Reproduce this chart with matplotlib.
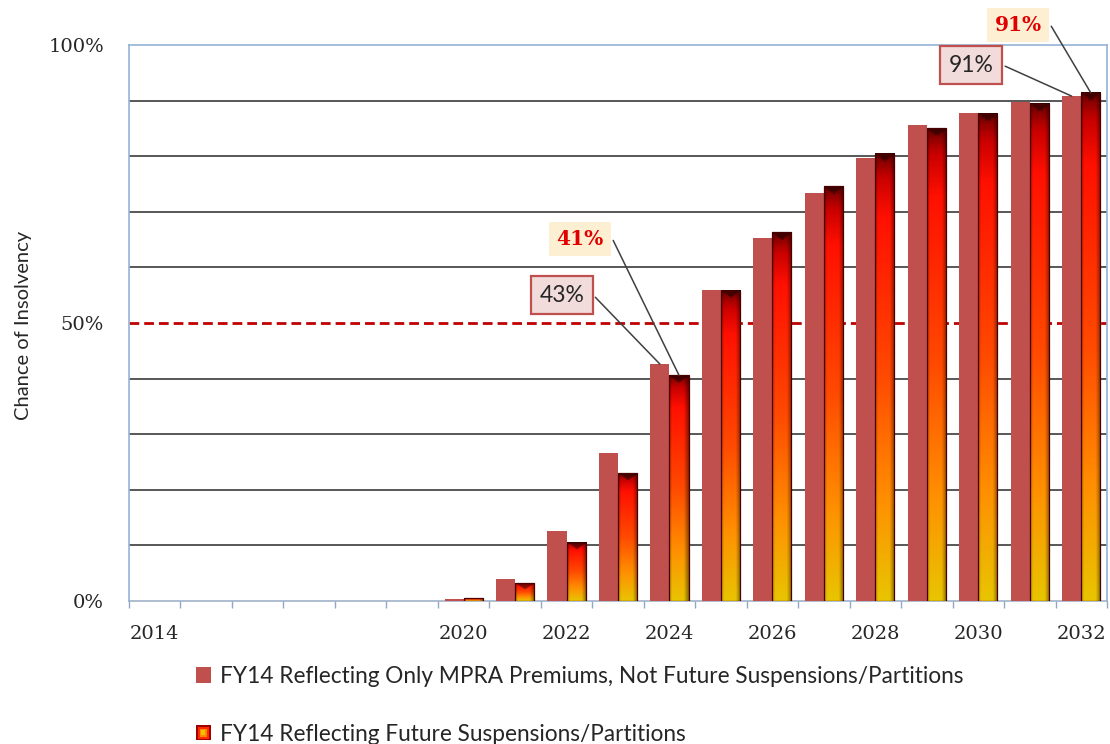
import numpy as np
import matplotlib
matplotlib.use('Agg')
import matplotlib.pyplot as plt
from matplotlib.patches import Patch, Rectangle
from matplotlib.colors import LinearSegmentedColormap
from matplotlib.legend_handler import HandlerBase

# data (percent chance of insolvency)
years = list(range(2014, 2033))
only_mpra = [0, 0, 0, 0, 0, 0, 0.4, 3.9, 12.6, 26.6, 42.6, 56.0, 65.3, 73.4, 79.6, 85.6, 87.7, 89.7, 90.8]
with_susp = [0, 0, 0, 0, 0, 0, 0.5, 3.2, 10.5, 23.0, 40.6, 55.8, 66.3, 74.6, 80.4, 85.0, 87.6, 89.4, 91.4]
labeled_years = [2014, 2020, 2022, 2024, 2026, 2028, 2030, 2032]
y_tick_vals = [0, 50, 100]
y_tick_labels = ['0%', '50%', '100%']
grid_levels = [10, 20, 30, 40, 60, 70, 80, 90]
threshold = 50
legend_labels = ['FY14 Reflecting Only MPRA Premiums, Not Future Suspensions/Partitions',
                 'FY14 Reflecting Future Suspensions/Partitions']

SERIF = 'DejaVu Serif'
SANS = 'Lato'

fig = plt.figure(figsize=(11.1, 7.44), dpi=100)
ax = fig.add_axes([129 / 1110, 1 - 601 / 744, 978 / 1110, 556 / 744])

x = np.arange(len(years))
w = 0.37

for g in grid_levels:
    ax.axhline(g, color='#4a4a4a', lw=1.3, zorder=1)
ax.axhline(threshold, color='#c00000', lw=2, ls=(0, (3.5, 1.8)), zorder=2)

bars1 = ax.bar(x - w / 2, only_mpra, w, color='#c0504d', zorder=3)
bars2 = ax.bar(x + w / 2, with_susp, w, facecolor='none', edgecolor='#4a0000',
               linewidth=0.9, zorder=5)

# gradient fill for the second series
cmap = LinearSegmentedColormap.from_list('fire', [
    (0.0, '#6e0000'), (0.05, '#c80000'), (0.14, '#ff1000'),
    (0.5, '#ff4a00'), (0.78, '#ff9000'), (1.0, '#e9c400')])
nr, nc = 200, 40
vert = np.linspace(0, 1, nr)[:, None]
horiz = np.linspace(0, 1, nc)[None, :]
shade = 1 - 0.45 * np.clip((np.abs(horiz - 0.45) - 0.3) / 0.25, 0, 1)
px_per_unit = 556 / 100
for p in bars2:
    h = p.get_height()
    if h <= 0:
        p.set_linewidth(0)
        continue
    img = cmap(np.repeat(vert, nc, axis=1))[:, :, :3].copy()
    img *= shade[:, :, None]
    # dark bevel at the top
    tri = min(0.35, 7 / (h * px_per_unit))
    for r in np.where(vert[:, 0] < tri)[0]:
        half = 0.5 * (1 - vert[r, 0] / tri)
        mask = np.abs(horiz[0] - 0.5) < half
        img[r, mask] *= 0.55
    ax.imshow(img, extent=(p.get_x(), p.get_x() + p.get_width(), 0, h),
              aspect='auto', origin='upper', zorder=4, interpolation='bilinear')

ax.set_xlim(-0.5, len(years) - 0.5)
ax.set_ylim(0, 100)

ax.set_yticks(y_tick_vals)
ax.set_yticklabels(y_tick_labels, family=SERIF, fontsize=14, color='#262626')
ax.tick_params(axis='y', length=0, pad=18)

ax.set_xticks([years.index(y) for y in labeled_years])
ax.set_xticklabels([str(y) for y in labeled_years], family=SERIF, fontsize=14, color='#262626')
ax.tick_params(axis='x', which='major', length=0, pad=17)
ax.set_xticks(np.arange(-0.5, len(years), 1), minor=True)
ax.tick_params(axis='x', which='minor', length=5, width=1, color='#8fa8c8', direction='out')

for s in ['top', 'right', 'left']:
    ax.spines[s].set_color('#95b3d7')
    ax.spines[s].set_linewidth(1.2)
ax.spines['bottom'].set_color('#9fb1c8')
ax.spines['bottom'].set_linewidth(1.2)

ax.set_ylabel('Chance of Insolvency', family=SANS, fontsize=14.5, color='#262626')
ax.yaxis.set_label_coords(-0.099, 0.496)

# callouts
i32 = years.index(2032)
i24 = years.index(2024)
gray_box = dict(boxstyle='square,pad=0.36', fc='#f2dcdb', ec='#c0504d', lw=1.6)
cream_box = dict(boxstyle='square,pad=0.36', fc='#fdf0d2', ec='none')
conn = dict(arrowstyle='-', color='#404040', lw=1.1, shrinkA=2, shrinkB=0,
            relpos=(1, 0.5), connectionstyle='arc,angleA=0,armA=9,angleB=0,armB=0,rad=0')

ax.annotate('%d%%' % round(only_mpra[i24]), xy=(i24 - w / 2, only_mpra[i24]), xytext=(7.91, 55.0),
            ha='center', va='center', family=SANS, fontsize=16.5, color='#262626',
            bbox=gray_box, arrowprops=conn, zorder=7)
ax.annotate('%d%%' % round(with_susp[i24]), xy=(i24 + w / 2, with_susp[i24]), xytext=(8.26, 65.1),
            ha='center', va='center', family=SERIF, fontsize=14.5, fontweight='bold', color='#e00000',
            bbox=cream_box, arrowprops=conn, zorder=7)
ax.annotate('%d%%' % round(only_mpra[i32]), xy=(i32 - w / 2, only_mpra[i32]), xytext=(15.86, 96.4),
            ha='center', va='center', family=SANS, fontsize=16.5, color='#262626',
            bbox=gray_box, arrowprops=conn, zorder=7, annotation_clip=False)
ax.annotate('%d%%' % round(with_susp[i32]), xy=(i32 + w / 2, with_susp[i32]), xytext=(16.77, 103.6),
            ha='center', va='center', family=SERIF, fontsize=14.5, fontweight='bold', color='#e00000',
            bbox=cream_box, arrowprops=conn, zorder=7, annotation_clip=False)


class GradHandler(HandlerBase):
    def create_artists(self, legend, orig_handle, xdescent, ydescent, width, height, fontsize, trans):
        arts = []
        cols = ['#a00000', '#ff2a00', '#ff8a00', '#efc200']
        for k, c in enumerate(cols):
            inset = k * width * 0.12
            arts.append(Rectangle((-xdescent + inset, -ydescent + inset), width - 2 * inset,
                                  height - 2 * inset, facecolor=c, edgecolor='none', transform=trans))
        return arts


h1 = Patch(facecolor='#c0504d')
h2 = Patch(facecolor='#ff8a00')
fig.legend([h1, h2], legend_labels, handler_map={h2: GradHandler()},
           loc='upper left', bbox_to_anchor=(196 / 1110, 1 - 666 / 744),
           frameon=False, prop={'family': SANS, 'size': 16.3},
           handlelength=0.65, handleheight=0.65, handletextpad=0.4,
           labelspacing=1.62, borderpad=0, borderaxespad=0, labelcolor='#262626')

fig.savefig('out.png', dpi=100)
